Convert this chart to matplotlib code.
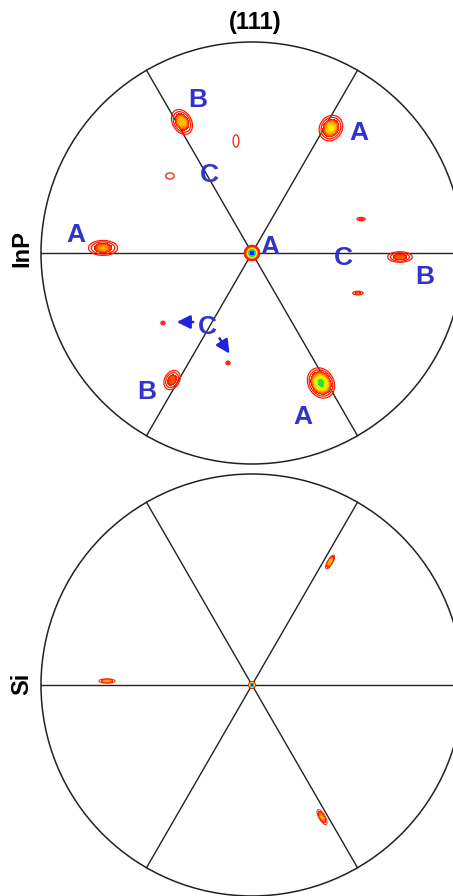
import numpy as np
import matplotlib
matplotlib.use("Agg")
import matplotlib.pyplot as plt
from matplotlib.patches import Circle

plt.rcParams['font.family'] = ['Liberation Sans', 'DejaVu Sans']

# ---------------- data: pole peaks (unit-circle coords) ----------------
# InP (111) pole figure peaks
inp_x   = [0.000, 0.374, -0.332, -0.706, 0.701, 0.327, -0.379, -0.076, -0.389, 0.517, 0.502, -0.422, -0.114]
inp_y   = [0.000, 0.592,  0.621,  0.024, -0.019, -0.616, -0.602, 0.531, 0.365, 0.161, -0.190, -0.332, -0.521]
inp_amp = [10.0, 4.6, 4.2, 3.6, 3.0, 6.6, 3.0, 1.2, 1.2, 1.6, 1.6, 1.6, 1.6]
inp_sa  = [0.016, 0.033, 0.034, 0.039, 0.035, 0.036, 0.029, 0.030, 0.021, 0.016, 0.020, 0.008, 0.008]
inp_sb  = [0.016, 0.028, 0.024, 0.020, 0.015, 0.029, 0.021, 0.014, 0.015, 0.006, 0.007, 0.007, 0.007]
inp_rot = [0, 60, 120, 0, 0, -60, 60, 90, 0, 0, 0, 0, 0]

# Si (111) pole figure peaks
si_x   = [0.000, -0.687, 0.370, 0.332]
si_y   = [0.000,  0.019, 0.583, -0.626]
si_amp = [10.0, 3.6, 4.0, 3.6]
si_sa  = [0.008, 0.026, 0.024, 0.027]
si_sb  = [0.008, 0.007, 0.008, 0.010]
si_rot = [0, 0, 60, -60]

# labels for InP panel (pixel positions in the figure)
lab_text = ["B", "A", "C", "A", "A", "C", "B", "C", "B", "A"]
lab_px   = [198, 359, 209, 76, 270, 343, 425, 207, 147, 303]
lab_py   = [100, 133, 175, 235, 247, 258, 277, 327, 392, 417]

spoke_angles = [0, 60, 120]

# ---------------- layout ----------------
W, H = 453, 896
R = 211
top_c = (252, 253)
bot_c = (252, 685)

fig = plt.figure(figsize=(W / 100, H / 100), dpi=100)

def make_ax(c):
    l = (c[0] - R) / W
    b = 1 - (c[1] + R) / H
    ax = fig.add_axes([l, b, 2 * R / W, 2 * R / H])
    ax.set_xlim(-1, 1)
    ax.set_ylim(-1, 1)
    ax.set_aspect('equal')
    ax.axis('off')
    return ax

levels_f = [2.0, 2.5, 3.0, 3.5, 4.2, 5.0, 6.0, 7.5, 9.0, 100]
colors_f = ['#ff1a00', '#ff5500', '#ff8c00', '#ffbf00', '#ffee00',
            '#c8ff00', '#33dd33', '#00bbee', '#2020ff']

g = np.linspace(-1, 1, 700)
GX, GY = np.meshgrid(g, g)

def field(xs, ys, amps, sa, sb, rots):
    Z = np.zeros_like(GX)
    for x0, y0, a, s1, s2, r in zip(xs, ys, amps, sa, sb, rots):
        t = np.deg2rad(r)
        dx, dy = GX - x0, GY - y0
        u = dx * np.cos(t) + dy * np.sin(t)
        v = -dx * np.sin(t) + dy * np.cos(t)
        Z += a * np.exp(-0.5 * ((u / s1) ** 2 + (v / s2) ** 2))
    Z[GX ** 2 + GY ** 2 > 1] = 0
    return Z

def draw_panel(ax, Z, line_levels, lw):
    ax.contourf(GX, GY, Z, levels=levels_f, colors=colors_f, zorder=2)
    ax.contour(GX, GY, Z, levels=line_levels, colors='#ff1a00', linewidths=lw, zorder=3)
    ax.add_patch(Circle((0, 0), 1, fill=False, ec='#222222', lw=1.1, zorder=4, clip_on=False))
    for a in spoke_angles:
        t = np.deg2rad(a)
        ax.plot([-np.cos(t), np.cos(t)], [-np.sin(t), np.sin(t)],
                color='#222222', lw=1.0, zorder=1, clip_on=False)

ax1 = make_ax(top_c)
draw_panel(ax1, field(inp_x, inp_y, inp_amp, inp_sa, inp_sb, inp_rot), [0.75, 1.3], 0.9)
ax2 = make_ax(bot_c)
draw_panel(ax2, field(si_x, si_y, si_amp, si_sa, si_sb, si_rot), [1.2], 0.7)

def px2d(px, py, c):
    return (px - c[0]) / R, (c[1] - py) / R

blue = '#3333cc'
for t, px, py in zip(lab_text, lab_px, lab_py):
    x, y = px2d(px, py, top_c)
    ax1.text(x, y, t, color=blue, fontsize=19, fontweight='bold',
             ha='center', va='center', zorder=6, clip_on=False)

# arrows from lower C
for (x0, y0, x1, y1) in [(196, 322, 174, 322), (218, 336, 231, 356)]:
    a0 = px2d(x0, y0, top_c)
    a1 = px2d(x1, y1, top_c)
    ax1.annotate('', xy=a1, xytext=a0,
                 arrowprops=dict(arrowstyle='-|>,head_length=0.8,head_width=0.4',
                                 color='#2222dd', lw=1.8), zorder=6)

fig.text(255 / W, 1 - 22 / H, '(111)', fontsize=17, fontweight='bold',
         ha='center', va='center')
fig.text(22 / W, 1 - 249 / H, 'InP', fontsize=17, fontweight='bold',
         ha='center', va='center', rotation=90)
fig.text(22 / W, 1 - 684 / H, 'Si', fontsize=17, fontweight='bold',
         ha='center', va='center', rotation=90)

fig.savefig('out.png', dpi=100, facecolor='white')
